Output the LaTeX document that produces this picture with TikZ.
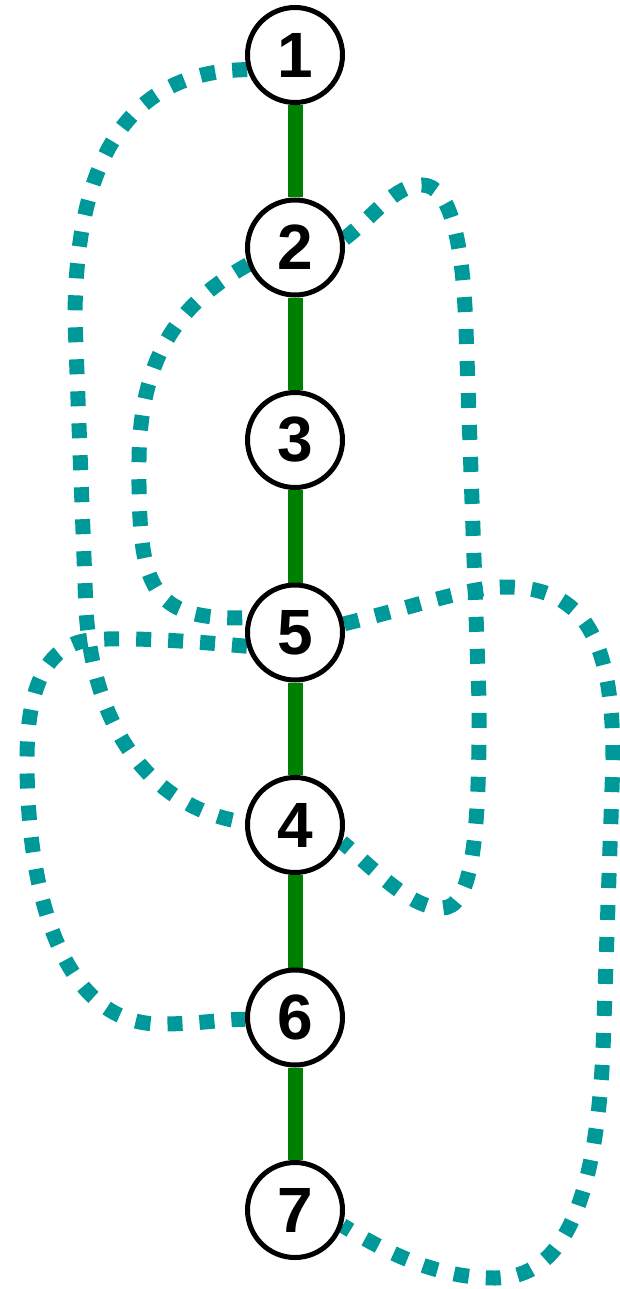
\documentclass[tikz,border=0pt]{standalone}
\usepackage{fontspec}
\setmainfont{Liberation Sans}
\usetikzlibrary{backgrounds}
\definecolor{treegreen}{RGB}{0,128,0}
\definecolor{backteal}{RGB}{0,153,153}
\begin{document}
\begin{tikzpicture}[x=1pt, y=1pt, node distance=192.5pt,
		vertex/.style={circle, draw=black, line width=5pt, fill=white, minimum size=95pt, inner sep=0pt, font=\fontsize{64}{64}\selectfont\bfseries},
		treeedge/.style={treegreen, line width=15pt},
		backedge/.style={backteal, line width=15pt, dash pattern=on 15pt off 17pt}]
		\useasboundingbox (0,0) rectangle (619,-1289);

		\node[vertex] (n1) at (295,-55) {1};
		\node[vertex] (n2) [below of=n1] {2};
		\node[vertex] (n3) [below of=n2] {3};
		\node[vertex] (n5) [below of=n3] {5};
		\node[vertex] (n4) [below of=n5] {4};
		\node[vertex] (n6) [below of=n4] {6};
		\node[vertex] (n7) [below of=n6] {7};

		\begin{pgfonlayer}{background}
		\draw[treeedge] (n1) -- (n2);
		\draw[treeedge] (n2) -- (n3);
		\draw[treeedge] (n3) -- (n5);
		\draw[treeedge] (n5) -- (n4);
		\draw[treeedge] (n4) -- (n6);
		\draw[treeedge] (n6) -- (n7);

		\draw[backedge] (n1.197) .. controls (135,-71) and (75,-150) .. (75,-320) -- (86,-610) .. controls (94,-740) and (160,-810) .. (n4.177);
		\draw[backedge] (n2.200) .. controls (185,-300) and (140,-350) .. (139,-460) .. controls (138,-590) and (150,-620) .. (n5.163);
		\draw[backedge] (n2.10) .. controls (375,-215) and (395,-185) .. (422,-185) .. controls (450,-185) and (463,-240) .. (466,-330) -- (479,-700) .. controls (480,-850) and (470,-908) .. (442,-908) .. controls (410,-908) and (375,-870) .. (n4.-20);
		\draw[backedge] (n5.196) .. controls (180,-640) and (120,-637) .. (90,-640) .. controls (45,-645) and (27,-690) .. (27,-760) .. controls (27,-900) and (65,-1024) .. (160,-1024) .. controls (200,-1024) and (225,-1019) .. (n6.182);
		\draw[backedge] (n5.10) .. controls (420,-605) and (470,-587) .. (505,-587) .. controls (585,-587) and (613,-640) .. (613,-760) -- (603,-1050) .. controls (595,-1230) and (550,-1278) .. (495,-1278) .. controls (440,-1278) and (390,-1255) .. (n7.-18);
		\end{pgfonlayer}
	\end{tikzpicture}
\end{document}
